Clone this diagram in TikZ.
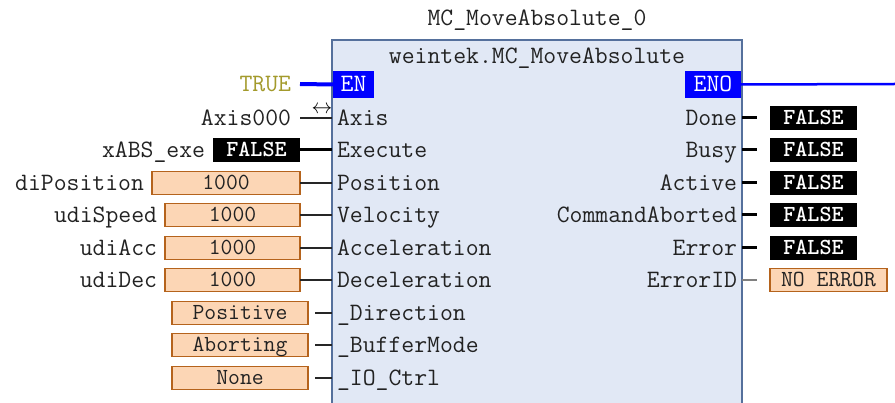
\documentclass[tikz,border=0pt]{standalone}
\usepackage{fontspec}
\usetikzlibrary{positioning,calc}

\definecolor{fbfill}{HTML}{E1E8F5}
\definecolor{fbdraw}{HTML}{55709C}
\definecolor{valfill}{HTML}{FCD6B5}
\definecolor{valdraw}{HTML}{B5631C}
\definecolor{plctext}{HTML}{222222}
\definecolor{truetext}{HTML}{A39A2C}
\definecolor{enblue}{HTML}{0000FF}

\begin{document}
\begin{tikzpicture}
[x=1pt,y=-1pt,
every node/.style={inner sep=0pt,outer sep=0pt},
pinlabel/.style={font=\fontsize{25}{27}\ttfamily,text=plctext,text height=15pt,text depth=0pt},
fbbox/.style={fill=fbfill,draw=fbdraw,line width=1.2pt},
enbox/.style={fill=enblue,text=white,font=\fontsize{25}{27}\ttfamily,text height=15pt,text depth=0pt,minimum height=27pt},
falsebox/.style={fill=black,text=white,font=\fontsize{23}{25}\ttfamily\bfseries,text height=14pt,text depth=0pt,minimum width=87pt,minimum height=24pt},
valbox/.style={fill=valfill,draw=valdraw,line width=1.4pt,text=plctext,font=\fontsize{23}{25}\ttfamily,text height=14pt,text depth=0pt,minimum height=23pt},
wire/.style={draw=black!85,line width=1.3pt},
boolwire/.style={draw=black,line width=3pt},
enwire/.style={draw=enblue,line width=4pt},
enowire/.style={draw=enblue,line width=2.5pt},
errwire/.style={draw=black!50,line width=1.2pt}]
\useasboundingbox (0,0) rectangle (895,403);
\clip (0,0) rectangle (895,403);

% function block
\node[fbbox,anchor=north west,minimum width=410pt,minimum height=380pt] (fb) at (332,40) {};
\node[pinlabel,above=14pt of fb.north] (fbname) {MC\_MoveAbsolute\_0};
\node[pinlabel,below=9pt of fb.north] (fbtype) {weintek.MC\_MoveAbsolute};

% enable in / out
\node[enbox,anchor=north west,minimum width=41pt] (en) at (333,71) {EN};
\node[enbox,anchor=north east,minimum width=56pt] (eno) at (741,71) {ENO};
\node[pinlabel,anchor=east,text=truetext] (truevar) at (291,84) {TRUE};
\coordinate (enoend) at (895,84);
\draw[enwire] ([xshift=9pt]truevar.east) -- (en.west);
\draw[enowire] (eno.east) -- (enoend);

% inputs
\node[pinlabel,anchor=west] (iAxis) at (337,118) {Axis};
\node[pinlabel,anchor=west] (iExec) at (337,150) {Execute};
\node[pinlabel,anchor=west] (iPos) at (337,183) {Position};
\node[pinlabel,anchor=west] (iVel) at (337,215) {Velocity};
\node[pinlabel,anchor=west] (iAcc) at (337,248) {Acceleration};
\node[pinlabel,anchor=west] (iDec) at (337,280) {Deceleration};
\node[pinlabel,anchor=west] (iDir) at (337,313) {\_Direction};
\node[pinlabel,anchor=west] (iBuf) at (337,345) {\_BufferMode};
\node[pinlabel,anchor=west] (iIO) at (337,378) {\_IO\_Ctrl};

\node[pinlabel,anchor=east] (axisvar) at (291,118) {Axis000};
\node (axisref) at (322,110) {\fontsize{20}{20}\selectfont$\leftrightarrow$};
\draw[wire] ([xshift=9pt]axisvar.east) -- (fb.west |- iAxis);

\node[falsebox,anchor=east] (vExec) at (300,150) {FALSE};
\node[pinlabel,left=8pt of vExec] (execvar) {xABS\_exe};
\draw[boolwire] (vExec.east) -- (fb.west |- iExec);

\node[valbox,anchor=east,minimum width=148pt] (vPos) at (300,183) {1000};
\node[valbox,anchor=east,minimum width=135pt] (vVel) at (300,215) {1000};
\node[valbox,anchor=east,minimum width=135pt] (vAcc) at (300,248) {1000};
\node[valbox,anchor=east,minimum width=135pt] (vDec) at (300,280) {1000};
\node[pinlabel,left=8pt of vPos] (posvar) {diPosition};
\node[pinlabel,left=8pt of vVel] (velvar) {udiSpeed};
\node[pinlabel,left=8pt of vAcc] (accvar) {udiAcc};
\node[pinlabel,left=8pt of vDec] (decvar) {udiDec};
\draw[wire] (vPos.east) -- (fb.west |- iPos);
\draw[wire] (vVel.east) -- (fb.west |- iVel);
\draw[wire] (vAcc.east) -- (fb.west |- iAcc);
\draw[wire] (vDec.east) -- (fb.west |- iDec);

\node[valbox,anchor=east,minimum width=136pt] (vDir) at (308,313) {Positive};
\node[valbox,anchor=east,minimum width=136pt] (vBuf) at (308,345) {Aborting};
\node[valbox,anchor=east,minimum width=136pt] (vIO) at (308,378) {None};
\draw[wire] ([xshift=7pt]vDir.east) -- (fb.west |- iDir);
\draw[wire] ([xshift=7pt]vBuf.east) -- (fb.west |- iBuf);
\draw[wire] ([xshift=7pt]vIO.east) -- (fb.west |- iIO);

% outputs
\node[pinlabel,anchor=east] (oDone) at (737,118) {Done};
\node[pinlabel,anchor=east] (oBusy) at (737,150) {Busy};
\node[pinlabel,anchor=east] (oAct) at (737,183) {Active};
\node[pinlabel,anchor=east] (oAbort) at (737,215) {CommandAborted};
\node[pinlabel,anchor=east] (oErr) at (737,248) {Error};
\node[pinlabel,anchor=east] (oErrID) at (737,280) {ErrorID};

\node[falsebox,anchor=west] (rDone) at (770,118) {FALSE};
\node[falsebox,anchor=west] (rBusy) at (770,150) {FALSE};
\node[falsebox,anchor=west] (rAct) at (770,183) {FALSE};
\node[falsebox,anchor=west] (rAbort) at (770,215) {FALSE};
\node[falsebox,anchor=west] (rErr) at (770,248) {FALSE};
\node[valbox,anchor=west,minimum width=117pt] (rErrID) at (770,280) {NO ERROR};
\draw[boolwire] (fb.east |- oDone) -- ([xshift=-13pt]rDone.west);
\draw[boolwire] (fb.east |- oBusy) -- ([xshift=-13pt]rBusy.west);
\draw[boolwire] (fb.east |- oAct) -- ([xshift=-13pt]rAct.west);
\draw[boolwire] (fb.east |- oAbort) -- ([xshift=-13pt]rAbort.west);
\draw[boolwire] (fb.east |- oErr) -- ([xshift=-13pt]rErr.west);
\draw[errwire] (fb.east |- oErrID) -- ([xshift=-13pt]rErrID.west);
\end{tikzpicture}
\end{document}
